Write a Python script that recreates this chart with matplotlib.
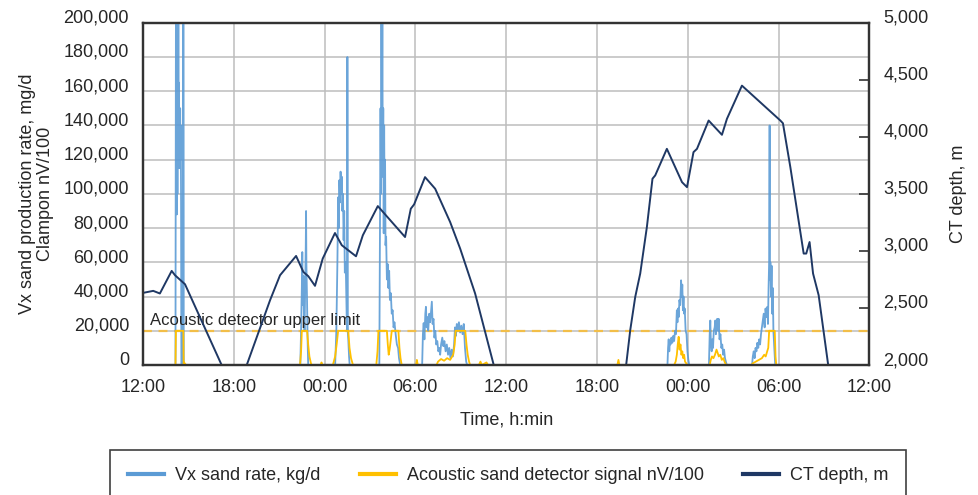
import matplotlib
matplotlib.use('Agg')
import matplotlib.pyplot as plt
from matplotlib.lines import Line2D

plt.rcParams['font.family'] = ['Liberation Sans', 'DejaVu Sans']

# time axis: hours after 12:00 on the first day
hour_ticks = [0, 6, 12, 18, 24, 30, 36, 42, 48]
tick_labels = ['12:00', '18:00', '00:00', '06:00', '12:00', '18:00', '00:00', '06:00', '12:00']
rate_ticks = list(range(0, 200001, 20000))
depth_ticks = list(range(2000, 5001, 500))
upper_limit = 20000

# CT depth, m (right axis)
ct_time = [0.0, 0.68, 1.12, 1.90, 2.12, 2.78, 5.20, 6.0, 6.86, 8.40, 9.06, 10.12, 10.60,
           10.93, 11.37, 11.88, 12.69, 13.14, 14.08, 14.53, 15.52, 17.32, 17.70, 17.92,
           18.64, 19.31, 20.30, 20.96, 21.95, 23.18, 23.6, 31.6, 31.93, 32.20, 32.53,
           32.86, 33.30, 33.67, 33.85, 34.62, 35.62, 35.95, 36.38, 36.61, 37.38, 38.26,
           38.59, 39.58, 42.12, 42.29, 42.78, 43.66, 43.83, 44.05, 44.28, 44.65, 45.28,
           45.6, 48.0]
ct_depth = [2632, 2650, 2627, 2825, 2787, 2708, 2000, 1750, 2000, 2568, 2787, 2956, 2816,
            2778, 2694, 2933, 3157, 3050, 2953, 3137, 3393, 3122, 3370, 3408,
            3647, 3545, 3253, 3021, 2627, 2000, 1800, 1800, 2000, 2306, 2597,
            2802, 3210, 3633, 3662, 3895, 3603, 3559, 3866, 3895, 4143, 4018,
            4158, 4449, 4143, 4119, 3734, 2977, 2977, 3078, 2802, 2612, 2000,
            1800, 1800]

# Vx sand rate, kg/d
vx_time = [0.0,
           2.15, 2.18, 2.20, 2.22, 2.24, 2.26, 2.28, 2.30, 2.32, 2.34, 2.36, 2.38, 2.40,
           2.42, 2.44, 2.46, 2.48, 2.50, 2.52, 2.54, 2.66, 2.67, 2.69,
           10.40, 10.46, 10.50, 10.53, 10.56, 10.60, 10.64, 10.68, 10.72, 10.76, 10.78,
           10.80, 10.84, 10.88, 10.92,
           12.70, 12.78, 12.85, 12.90, 12.94, 12.98, 13.02, 13.06, 13.10, 13.14, 13.18,
           13.22, 13.26, 13.30, 13.34, 13.40, 13.46, 13.50, 13.51, 13.53, 13.57, 13.62, 13.66,
           15.62, 15.66, 15.70, 15.73, 15.76, 15.79, 15.82, 15.85, 15.88, 15.91, 15.94,
           15.97, 16.00, 16.03, 16.07, 16.12, 16.17, 16.22, 16.27, 16.32, 16.38, 16.44,
           16.50, 16.56, 16.62, 16.70, 16.78, 16.86, 16.92, 17.00,
           18.45, 18.50, 18.55, 18.60, 18.66, 18.70, 18.75, 18.80, 18.85, 18.92, 18.98,
           19.05, 19.09, 19.14, 19.20, 19.26, 19.32, 19.38, 19.45, 19.52, 19.58, 19.64,
           19.70, 19.78, 19.85, 19.92, 20.00, 20.08, 20.16, 20.24, 20.32, 20.40, 20.48,
           20.56, 20.62, 20.68, 20.74, 20.80, 20.88, 20.96, 21.04, 21.12, 21.20, 21.28,
           21.36, 21.42,
           34.66, 34.70, 34.74, 34.78, 34.82, 34.86, 34.92, 34.98, 35.04, 35.10, 35.16,
           35.22, 35.28, 35.32, 35.36, 35.40, 35.45, 35.50, 35.56, 35.60, 35.64, 35.68,
           35.72, 35.76, 35.80, 35.86, 35.92, 35.98, 36.04, 36.10,
           37.40, 37.45, 37.49, 37.53, 37.58, 37.62, 37.67, 37.72, 37.78, 37.82, 37.86,
           37.90, 37.95, 38.00, 38.04, 38.10, 38.16, 38.22, 38.28, 38.34, 38.40, 38.46,
           38.52, 38.58,
           40.25, 40.30, 40.36, 40.42, 40.48, 40.54, 40.60, 40.66, 40.72, 40.78, 40.84,
           40.90, 40.96, 41.02, 41.08, 41.14, 41.20, 41.26, 41.30, 41.34, 41.38, 41.41,
           41.43, 41.46, 41.50, 41.54, 41.58, 41.62, 41.66, 41.72, 41.78,
           48.0]
vx_rate = [0,
           0, 205000, 95000, 185000, 88000, 190000, 100000, 175000, 120000, 205000, 130000,
           165000, 115000, 150000, 125000, 150000, 120000, 140000, 95000, 0, 0, 205000, 0,
           0, 25000, 45000, 66000, 35000, 52000, 28000, 20000, 45000, 70000, 90000,
           60000, 40000, 15000, 0,
           0, 20000, 60000, 98000, 80000, 108000, 95000, 113000, 100000, 110000, 90000,
           100000, 73000, 90000, 54000, 60000, 30000, 20000, 180000, 20000, 15000, 5000, 0,
           0, 80000, 150000, 100000, 205000, 130000, 205000, 110000, 150000, 77000, 140000,
           90000, 120000, 70000, 75000, 50000, 59000, 45000, 55000, 38000, 42000, 30000,
           32000, 22000, 25000, 18000, 12000, 10000, 4000, 0,
           0, 18000, 24500, 15000, 30000, 34000, 22000, 28000, 20000, 30000, 25000,
           33000, 37000, 24000, 27000, 16000, 20000, 12000, 14000, 8000, 10000, 6000,
           12000, 16000, 11000, 14000, 8000, 12000, 6000, 10000, 4000, 9000, 5000,
           12000, 22000, 17000, 24000, 20000, 25000, 19000, 23000, 18000, 24000, 10000,
           2000, 0,
           0, 10000, 15000, 8000, 14000, 12000, 16000, 13000, 17000, 14000, 20000,
           18000, 32000, 25000, 33000, 28000, 38000, 35000, 49500, 40000, 47000, 32000,
           40000, 30000, 33000, 20000, 18000, 8000, 3000, 0,
           0, 18000, 26000, 12000, 8000, 15000, 10000, 20000, 22000, 26000, 18000,
           24000, 27000, 20000, 27000, 15000, 18000, 10000, 12000, 6000, 9000, 4000,
           2000, 0,
           0, 5000, 8000, 4000, 10000, 8000, 13000, 10000, 15000, 12000, 18000,
           22000, 26000, 30000, 22000, 33000, 28000, 34000, 24000, 45000, 61000, 140000,
           50000, 60000, 40000, 58000, 30000, 45000, 20000, 10000, 0,
           0]

# Acoustic sand detector signal nV/100 (saturates at the upper limit)
ac_time = [0.0,
           2.15, 2.18, 2.67, 2.69, 2.72, 2.80, 2.85,
           10.38, 10.45, 10.50, 10.85, 10.92, 11.00, 11.10, 11.15, 11.75, 11.80, 11.85,
           12.55, 12.70, 12.80, 12.90, 13.57, 13.65, 13.75, 13.88,
           15.42, 15.50, 15.56, 16.12, 16.18, 16.24, 16.30, 16.38, 16.44, 16.88, 16.95,
           17.02, 17.10,
           18.05, 18.10, 18.16, 19.40, 19.50, 19.70, 19.90, 20.10, 20.30, 20.50, 20.60,
           20.66, 21.30, 21.38, 21.46, 21.55, 21.62, 22.20, 22.30, 22.40, 22.70, 22.80,
           31.35, 31.42, 31.48,
           35.10, 35.20, 35.28, 35.34, 35.40, 35.46, 35.52, 35.58, 35.64, 35.70, 35.76,
           35.82, 35.90, 35.96,
           37.45, 37.52, 37.60, 37.70, 37.80, 37.90, 37.98, 38.05, 38.15, 38.25, 38.35,
           38.45, 38.55,
           40.20, 40.30, 40.50, 40.70, 40.90, 41.05, 41.15, 41.25, 41.32, 41.38, 41.75,
           41.80, 41.85,
           48.0]
ac_signal = [0,
             0, 20000, 20000, 0, 1500, 500, 0,
             0, 8000, 20000, 20000, 12000, 5000, 1000, 0, 0, 1500, 0,
             0, 5000, 12000, 20000, 20000, 10000, 4000, 0,
             0, 8000, 20000, 20000, 12000, 6000, 9000, 15000, 20000, 20000, 10000,
             4000, 0,
             0, 3000, 0, 0, 2000, 3500, 2500, 4000, 3000, 6000, 12000,
             20000, 20000, 12000, 6000, 2000, 0, 0, 2000, 0, 1500, 0,
             0, 3000, 0,
             0, 2000, 6000, 12000, 16500, 9000, 12000, 6000, 8000, 4000, 6000,
             2000, 1000, 0,
             0, 3000, 5000, 4000, 6000, 9000, 7000, 5000, 6000, 3000, 4000,
             1500, 0,
             0, 1000, 2000, 3000, 4000, 6000, 5000, 8000, 10000, 20000, 20000,
             5000, 0,
             0]

blue = '#5B9BD5'
gold = '#FFC000'
navy = '#1F3864'
text_col = '#262626'

fig = plt.figure(figsize=(9.79, 4.95), dpi=100)
ax = fig.add_axes([0.146, 0.2626, 0.742, 0.6914])
ax2 = ax.twinx()

ax.plot(vx_time, vx_rate, color=blue, lw=1.3, alpha=0.9, zorder=3)
ax.plot(ac_time, ac_signal, color=gold, lw=1.3, zorder=4)
ax.axhline(upper_limit, color='#F2BE48', lw=1.6, ls=(0, (4, 3)), zorder=2)
ax.text(0.45, upper_limit + 1500, 'Acoustic detector upper limit', fontsize=12,
        color=text_col, ha='left', va='bottom', zorder=5)
ax2.plot(ct_time, ct_depth, color=navy, lw=1.4)

ax.set_xlim(0, 48)
ax.set_ylim(0, 200000)
ax2.set_ylim(2000, 5000)
ax.set_xticks(hour_ticks, labels=tick_labels)
ax.set_yticks(rate_ticks, labels=[f'{v:,}' for v in rate_ticks])
ax2.set_yticks(depth_ticks, labels=[f'{v:,}' for v in depth_ticks])
ax.grid(True, color='#BDBDBD', lw=1.1)
ax.set_axisbelow(True)

ax.tick_params(axis='x', length=0, labelsize=13, labelcolor=text_col, pad=10)
ax.tick_params(axis='y', length=0, labelsize=13, labelcolor=text_col, pad=10)
ax2.tick_params(axis='y', direction='in', length=7, width=1.2, color='#333333',
                labelsize=13, labelcolor=text_col, pad=10)
for lab in ax.get_yticklabels() + ax2.get_yticklabels():
    lab.set_verticalalignment('baseline')

for a in (ax, ax2):
    for sp in a.spines.values():
        sp.set_color('#333333')
        sp.set_linewidth(1.6)

ax.set_xlabel('Time, h:min', fontsize=13, color=text_col)
ax.xaxis.set_label_coords(0.5, -0.135)
ax.set_ylabel('Vx sand production rate, mg/d\nClampon nV/100', fontsize=13,
              color=text_col, linespacing=1.05)
ax.yaxis.set_label_coords(-0.123, 0.5)
ax2.set_ylabel('CT depth, m', fontsize=13, color=text_col)
ax2.yaxis.set_label_coords(1.111, 0.5)

handles = [Line2D([], [], color=blue, lw=3),
           Line2D([], [], color=gold, lw=3),
           Line2D([], [], color=navy, lw=3)]
names = ['Vx sand rate, kg/d', 'Acoustic sand detector signal nV/100', 'CT depth, m']
leg = fig.legend(handles, names, loc='upper center', bbox_to_anchor=(0.519, 0.091),
                 ncol=3, fontsize=13, frameon=True, fancybox=False, framealpha=1,
                 edgecolor='#404040', handlelength=2.0, handletextpad=0.6,
                 columnspacing=2.2, borderpad=0.95, borderaxespad=0)
leg.get_frame().set_linewidth(1.2)
for t in leg.get_texts():
    t.set_color(text_col)

fig.savefig('out.png', dpi=100)
